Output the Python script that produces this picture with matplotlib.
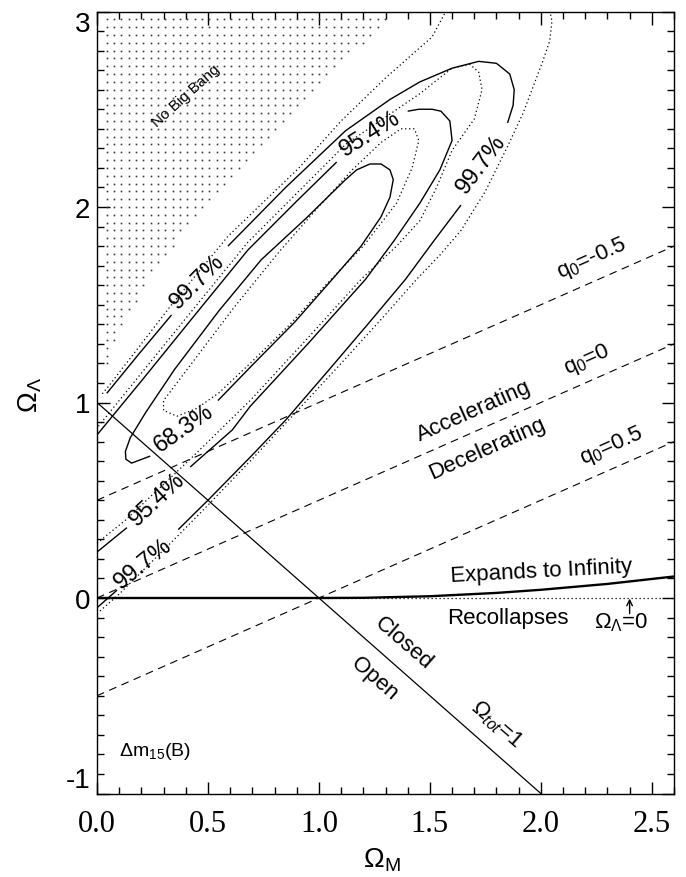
import numpy as np
import matplotlib
matplotlib.use('Agg')
import matplotlib.pyplot as plt

plt.rcParams['axes.unicode_minus'] = False
plt.rcParams['font.family'] = ['Liberation Sans', 'DejaVu Sans']
plt.rcParams['mathtext.fontset'] = 'custom'
plt.rcParams['mathtext.rm'] = 'Liberation Sans'
plt.rcParams['mathtext.it'] = 'Liberation Sans:italic'
plt.rcParams['mathtext.default'] = 'regular'

# ---------------- data (Omega_M, Omega_Lambda) ----------------
# solid confidence contours, each a list of segments (gaps are where labels sit)
solid_997 = [
    [(0.0, -0.05), (0.09, 0.04)],
    [(0.366, 0.35), (0.5, 0.5), (0.69, 0.72), (0.85, 0.91), (1.04, 1.16), (1.22, 1.40),
     (1.39, 1.63), (1.52, 1.83), (1.64, 2.01)],
    [(1.85, 2.43), (1.875, 2.52), (1.88, 2.60), (1.86, 2.68), (1.80, 2.735), (1.72, 2.745),
     (1.60, 2.71), (1.455, 2.64), (1.32, 2.55), (1.12, 2.39), (0.85, 2.10), (0.59, 1.80)],
    [(0.336, 1.448), (0.19, 1.25), (0.044, 1.047)],
]
solid_954 = [
    [(0.0, 0.235), (0.135, 0.36)],
    [(0.42, 0.67), (0.61, 0.86), (0.69, 0.98), (0.95, 1.30), (1.21, 1.63), (1.34, 1.83),
     (1.455, 2.02), (1.545, 2.19), (1.60, 2.34), (1.59, 2.44), (1.55, 2.49), (1.51, 2.50),
     (1.45, 2.50), (1.40, 2.49)],
    [(1.08, 2.23), (0.90, 2.03), (0.68, 1.78), (0.45, 1.46), (0.2, 1.11), (0.0, 0.834)],
]
solid_683 = [
    [(0.545, 1.01), (0.69, 1.18), (0.89, 1.41), (1.06, 1.63), (1.19, 1.80), (1.28, 1.95),
     (1.32, 2.05), (1.335, 2.14), (1.32, 2.19), (1.28, 2.22), (1.23, 2.22), (1.17, 2.19),
     (1.12, 2.14), (0.94, 1.94), (0.74, 1.73), (0.55, 1.47), (0.35, 1.17), (0.22, 0.95),
     (0.15, 0.82), (0.128, 0.75), (0.13, 0.71), (0.156, 0.69), (0.24, 0.726)],
]
# dotted contours (second fitting method)
dotted_683 = [
    [(0.30, 0.96), (0.30, 1.01), (0.44, 1.22), (0.62, 1.49), (0.82, 1.77), (0.99, 1.99),
     (1.15, 2.19), (1.28, 2.33), (1.37, 2.40), (1.43, 2.40), (1.45, 2.34), (1.42, 2.20),
     (1.35, 2.02), (1.20, 1.80), (1.03, 1.60), (0.87, 1.40), (0.69, 1.20), (0.55, 1.05),
     (0.45, 0.97), (0.36, 0.93), (0.30, 0.96)],
]
dotted_954 = [
    [(0.0, 0.28), (0.13, 0.40), (0.42, 0.71), (0.69, 1.01), (0.95, 1.33), (1.19, 1.63),
     (1.35, 1.80), (1.455, 1.93), (1.53, 2.10), (1.60, 2.29), (1.70, 2.45), (1.735, 2.60),
     (1.72, 2.69), (1.68, 2.73), (1.60, 2.71), (1.455, 2.58), (1.30, 2.46), (1.12, 2.32),
     (0.90, 2.07), (0.68, 1.82), (0.45, 1.50), (0.2, 1.15), (0.0, 0.87)],
]
dotted_997 = [
    [(0.0, -0.08), (0.1, 0.02), (0.366, 0.32), (0.5, 0.475), (0.69, 0.70), (0.9, 0.955),
     (1.1, 1.20), (1.3, 1.45), (1.44, 1.63), (1.55, 1.76), (1.64, 1.88), (1.75, 2.08),
     (1.85, 2.31), (1.92, 2.48), (1.96, 2.60), (2.01, 2.75), (2.04, 2.85), (2.05, 2.95),
     (2.03, 3.06)],
    [(1.60, 3.06), (1.51, 2.87), (1.30, 2.66), (1.10, 2.44), (0.91, 2.20), (0.59, 1.85),
     (0.336, 1.50), (0.05, 1.08), (0.02, 1.04)],
]

# No-Big-Bang boundary
nbb_x = [0.0, 0.1, 0.2, 0.3, 0.5, 0.7, 1.0, 1.2, 1.4]
nbb_y = [1.0, 1.34, 1.55, 1.72, 2.0, 2.25, 2.6, 2.82, 3.02]
# expands / recollapses boundary
inf_x = [0.0, 1.0, 1.2, 1.5, 1.8, 2.0, 2.3, 2.6]
inf_y = [0.0, 0.0, 0.001, 0.009, 0.026, 0.042, 0.072, 0.110]
# deceleration parameter lines and flat universe line
q0_vals = [-0.5, 0.0, 0.5]
flat_x = [0.0, 2.0]
flat_y = [1.0, -1.0]

xticks = [0.0, 0.5, 1.0, 1.5, 2.0, 2.5]
xticklabels = ['0.0', '0.5', '1.0', '1.5', '2.0', '2.5']
yticks = [-1, 0, 1, 2, 3]
yticklabels = ['-1', '0', '1', '2', '3']

# ---------------- figure ----------------
fig = plt.figure(figsize=(6.86, 8.78), dpi=100)
ax = fig.add_axes([97/686, 1 - 794.5/878, 577/686, 782/878])
ax.set_xlim(0, 2.6)
ax.set_ylim(-1, 3)

# dot pattern of the No-Big-Bang region
gx, gy = np.meshgrid(np.arange(0.044, 2.6, 0.033), np.arange(2.96, 1.0, -0.04))
mask = gy > np.interp(gx, nbb_x, nbb_y) + 0.02
ax.plot(gx[mask], gy[mask], 's', ms=1.2, color='#3a3a3a', mec='none')

def draw(segs, **kw):
    for s in segs:
        a = np.array(s)
        ax.plot(a[:, 0], a[:, 1], **kw)

for c in (solid_997, solid_954, solid_683):
    draw(c, color='k', lw=1.0, solid_capstyle='butt')
for c in (dotted_997, dotted_954, dotted_683):
    draw(c, color='k', lw=0.9, linestyle=(0, (1, 2.2)))

xq = np.array([0.0, 2.6])
for q in q0_vals:
    ax.plot(xq, xq / 2 - q, color='k', lw=0.8, linestyle=(0, (7, 5)))

ax.plot(flat_x, flat_y, color='k', lw=0.9)
ax.plot(inf_x, inf_y, color='k', lw=1.7)
ax.plot([1.0, 2.6], [0.0, 0.0], color='k', lw=0.9, linestyle=(0, (1, 2.2)))

ax.annotate('', xy=(2.40, -0.003), xytext=(2.40, -0.08),
            arrowprops=dict(arrowstyle='->', lw=1.0, color='k', shrinkA=0, shrinkB=0))

# text labels
def t(x, y, s, rot=0, size=16, **kw):
    ax.text(x, y, s, rotation=rot, fontsize=size, ha='center', va='center',
            rotation_mode='anchor', **kw)

t(0.40, 2.57, 'No Big Bang', 42, 11)
t(0.45, 1.62, '99.7%', 45, 17)
t(1.23, 2.38, '95.4%', 32, 17)
t(1.73, 2.22, '99.7%', 53, 17)
t(0.39, 0.87, '68.3%', 35, 17)
t(0.27, 0.51, '95.4%', 43, 17)
t(0.21, 0.18, '99.7%', 39, 17)
t(2.23, 1.74, r'q$_0$=-0.5', 24, 16)
t(2.21, 1.22, r'q$_0$=0', 24, 16)
t(2.32, 0.78, r'q$_0$=0.5', 24, 16)
t(1.70, 0.96, 'Accelerating', 24, 16)
t(1.76, 0.77, 'Decelerating', 24, 16)
t(2.0, 0.14, 'Expands to Infinity', 3, 16)
t(1.85, -0.10, 'Recollapses', 0, 16)
t(2.36, -0.12, r'$\Omega_\Lambda$=0', 0, 16)
t(1.38, -0.23, 'Closed', -41, 16)
t(1.25, -0.41, 'Open', -41, 16)
t(1.80, -0.64, r'$\Omega_{\mathit{tot}}$=1', -41, 16)
t(0.26, -0.78, r'$\Delta$m$_{15}$(B)', 0, 14)

# axes styling
ax.set_xticks(xticks)
ax.set_xticklabels(xticklabels, family='Liberation Serif', fontsize=22)
ax.set_yticks(yticks)
ax.set_yticklabels(yticklabels, fontsize=20)
ax.set_xticks(np.arange(0, 2.61, 0.1), minor=True)
ax.set_yticks(np.arange(-1, 3.01, 0.1), minor=True)
ax.tick_params(which='both', direction='in', top=True, right=True, width=1.0)
ax.tick_params(which='major', length=9)
ax.tick_params(which='minor', length=5)
ax.tick_params(axis='x', pad=11)
ax.tick_params(axis='y', pad=5)
for sp in ax.spines.values():
    sp.set_linewidth(1.0)
ylabs = ax.get_yticklabels()
ylabs[0].set_va('bottom')
ylabs[-1].set_va('top')

ax.text(0.494, -0.084, r'$\Omega_M$', transform=ax.transAxes, fontsize=20,
        ha='center', va='center')
ax.text(-0.116, 0.511, r'$\Omega_\Lambda$', transform=ax.transAxes, fontsize=20,
        ha='center', va='center', rotation=90)

fig.savefig('out.png', dpi=100)
